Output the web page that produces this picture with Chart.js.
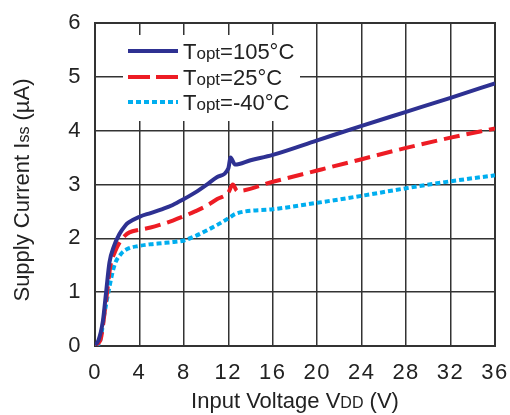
<!DOCTYPE html>
<html>
<head>
<meta charset="utf-8">
<script src="https://cdn.jsdelivr.net/npm/chart.js@4.4.0/dist/chart.umd.min.js"></script>
<style>
  html, body { margin: 0; padding: 0; background: #fff; }
  canvas { display: block; }
</style>
</head>
<body>
<canvas id="myChart" width="510" height="415"></canvas>
<script>
// tick values
var xTicks = [0, 4, 8, 12, 16, 20, 24, 28, 32, 36];
var yTicks = [0, 1, 2, 3, 4, 5, 6];

// Topt = 105 C
var vdd105 = [0, 0.3, 0.7, 1.0, 1.3, 1.7, 2.2, 2.7, 3.0, 4, 5, 6, 7, 8, 9, 10, 11, 12, 12.2, 12.6, 14, 16, 20, 24, 28, 32, 36];
var iss105 = [0.02, 0.1, 0.45, 1.0, 1.55, 1.85, 2.08, 2.23, 2.29, 2.4, 2.47, 2.54, 2.62, 2.73, 2.85, 2.99, 3.14, 3.30, 3.5, 3.37, 3.45, 3.55, 3.82, 4.09, 4.35, 4.61, 4.88];

// Topt = 25 C
var vdd25 = [0, 0.5, 1.0, 1.4, 1.8, 2.2, 2.7, 3.1, 4, 5, 6, 7, 8, 9, 10, 11, 12, 12.4, 12.8, 16, 20, 24, 28, 32, 36];
var iss25 = [0.02, 0.12, 0.85, 1.5, 1.75, 1.92, 2.05, 2.11, 2.16, 2.2, 2.26, 2.33, 2.41, 2.5, 2.6, 2.73, 2.85, 3.0, 2.88, 3.05, 3.26, 3.47, 3.68, 3.87, 4.04];

// Topt = -40 C
var vddM40 = [0, 0.4, 0.85, 1.3, 1.75, 2.3, 2.9, 4, 5, 6, 7, 8, 9, 10, 11, 12, 12.7, 16, 20, 24, 28, 32, 36];
var issM40 = [0, 0.05, 0.6, 1.1, 1.5, 1.7, 1.8, 1.86, 1.89, 1.91, 1.93, 1.96, 2.04, 2.14, 2.25, 2.37, 2.46, 2.54, 2.66, 2.79, 2.93, 3.06, 3.17];

var seriesNames = ['105°C', '25°C', '-40°C'];
var colors = ['#2e3192', '#ed1c24', '#00aeef'];

function pts(xs, ys) {
    return xs.map(function(x, i) { return { x: x, y: ys[i] }; });
}

var FONT = '"Liberation Sans", Arial, sans-serif';

// draws mixed size text, e.g. "T" + small "opt" + "=105°C"
function drawParts(ctx, parts, x, y) {
    parts.forEach(function(p) {
        ctx.font = p[1] + 'px ' + FONT;
        ctx.fillText(p[0], x, y);
        x += ctx.measureText(p[0]).width;
    });
}
function partsWidth(ctx, parts) {
    var w = 0;
    parts.forEach(function(p) {
        ctx.font = p[1] + 'px ' + FONT;
        w += ctx.measureText(p[0]).width;
    });
    return w;
}

var legendBox = { left: 123, top: 35, right: 300, bottom: 121 };

var framePlugin = {
    id: 'frame',
    beforeDraw: function(chart) {
        chart.ctx.letterSpacing = '1.5px';
    },
    beforeDatasetsDraw: function(chart) {
        var ctx = chart.ctx, a = chart.chartArea;
        ctx.save();
        ctx.fillStyle = '#fff';
        ctx.fillRect(legendBox.left, legendBox.top, legendBox.right - legendBox.left, legendBox.bottom - legendBox.top);
        ctx.strokeStyle = '#333';
        ctx.lineWidth = 2;
        ctx.strokeRect(a.left, a.top, a.right - a.left, a.bottom - a.top);
        ctx.restore();
    },
    afterDraw: function(chart) {
        var ctx = chart.ctx, a = chart.chartArea;
        ctx.save();
        ctx.letterSpacing = '0px';
        ctx.fillStyle = '#222';
        ctx.textBaseline = 'alphabetic';

        // legend
        var rowY = [51, 77, 102];
        var dashes = [[], [22, 6], [5, 3]];
        for (var i = 0; i < 3; i++) {
            ctx.beginPath();
            ctx.strokeStyle = colors[i];
            ctx.lineWidth = 4;
            ctx.setLineDash(dashes[i]);
            ctx.moveTo(128, rowY[i]);
            ctx.lineTo(178, rowY[i]);
            ctx.stroke();
            ctx.setLineDash([]);
            drawParts(ctx, [['T', 22], ['opt', 17], ['=' + seriesNames[i], 22]], 183, rowY[i] + 7.5);
        }

        // x title
        var xt = [['Input Voltage V', 22], ['DD', 16], [' (V)', 22]];
        var w = partsWidth(ctx, xt);
        drawParts(ctx, xt, (a.left + a.right) / 2 - w / 2, 408);

        // y title
        var yt = [['Supply Current I', 22], ['ss', 16], [' (µA)', 22]];
        w = partsWidth(ctx, yt);
        ctx.translate(29, 190);
        ctx.rotate(-Math.PI / 2);
        drawParts(ctx, yt, -w / 2, 0);
        ctx.restore();
    }
};

function noPad(s) {
    s.paddingLeft = 0; s.paddingRight = 0; s.paddingTop = 0; s.paddingBottom = 0;
}

var ctx = document.getElementById('myChart').getContext('2d');
var myChart = new Chart(ctx, {
    type: 'line',
    data: {
        datasets: [{
            label: 'Topt=105°C',
            data: pts(vdd105, iss105),
            borderColor: colors[0],
            borderWidth: 4
        }, {
            label: 'Topt=25°C',
            data: pts(vdd25, iss25),
            borderColor: colors[1],
            borderWidth: 4,
            borderDash: [16, 7]
        }, {
            label: 'Topt=-40°C',
            data: pts(vddM40, issM40),
            borderColor: colors[2],
            borderWidth: 4,
            borderDash: [5, 3]
        }]
    },
    options: {
        responsive: false,
        animation: false,
        devicePixelRatio: 1,
        layout: { padding: { top: 23, right: 15, left: 0, bottom: 0 } },
        elements: {
            point: { radius: 0 },
            line: { cubicInterpolationMode: 'monotone', backgroundColor: 'transparent', borderCapStyle: 'butt' }
        },
        plugins: {
            legend: { display: false },
            tooltip: { enabled: false }
        },
        scales: {
            x: {
                type: 'linear',
                min: 0,
                max: 36,
                afterFit: function(s) { s.height = 69; noPad(s); },
                afterBuildTicks: function(s) { s.ticks = xTicks.map(function(v) { return { value: v }; }); },
                grid: { color: '#333', lineWidth: 1.5, drawTicks: false },
                border: { display: false },
                ticks: { padding: 14, color: '#222', font: { family: FONT, size: 22 } }
            },
            y: {
                min: 0,
                max: 6,
                afterFit: function(s) { s.width = 95; noPad(s); },
                afterBuildTicks: function(s) { s.ticks = yTicks.map(function(v) { return { value: v }; }); },
                grid: { color: '#333', lineWidth: 1.5, drawTicks: false },
                border: { display: false },
                ticks: { padding: 13, color: '#222', font: { family: FONT, size: 22 } }
            }
        }
    },
    plugins: [framePlugin]
});
</script>
</body>
</html>
